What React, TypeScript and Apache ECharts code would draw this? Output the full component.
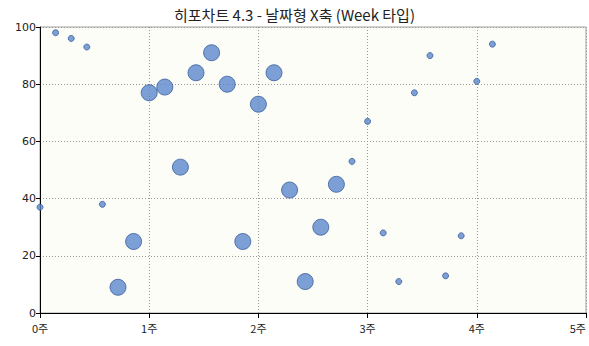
import React, { useEffect, useRef } from "react";
import * as echarts from "echarts";

const titleText = "히포차트 4.3 - 날짜형 X축 (Week 타입)";
// day index from start (7 days = 1 week)
const days = [0, 1, 2, 3, 4, 5, 6, 7, 8, 9, 10, 11, 12, 13, 14, 15, 16, 17, 18, 19, 20, 21, 22, 23, 24, 25, 26, 27, 28, 29];
const values = [37, 98, 96, 93, 38, 9, 25, 77, 79, 51, 84, 91, 80, 25, 73, 84, 43, 11, 30, 45, 53, 67, 28, 11, 77, 90, 13, 27, 81, 94];
const sizes = [1, 1, 1, 1, 1, 3, 3, 3, 3, 3, 3, 3, 3, 3, 3, 3, 3, 3, 3, 3, 1, 1, 1, 1, 1, 1, 1, 1, 1, 1];
const weekTicks = [0, 1, 2, 3, 4, 5];
const yTicks = [0, 20, 40, 60, 80, 100];

export default function App() {
  const ref = useRef<HTMLDivElement>(null);
  useEffect(() => {
    if (!ref.current) return;
    const chart = echarts.init(ref.current, null, { renderer: "svg" });
    const data = days.map((d, i) => [d, values[i], sizes[i]]);
    chart.setOption({
      animation: false,
      title: {
        text: titleText,
        left: "center",
        top: 2,
        textStyle: { fontFamily: "Noto Sans CJK KR", fontSize: 15, fontWeight: "normal", color: "#222" },
      },
      grid: {
        left: 40,
        right: 1,
        top: 27,
        bottom: 33,
        show: true,
        backgroundColor: "#fdfdf7",
        borderColor: "#a0a0a0",
        borderWidth: 1,
      },
      xAxis: {
        type: "value",
        min: 0,
        max: weekTicks[weekTicks.length - 1] * 7,
        interval: 7,
        axisLine: { show: true, onZero: false, lineStyle: { color: "#000", width: 1 } },
        axisTick: { show: true, length: 5, lineStyle: { color: "#000" } },
        axisLabel: {
          formatter: (v: number) => `${v / 7}주`,
          color: "#222",
          fontSize: 11,
          fontFamily: "Noto Sans CJK KR",
          margin: 9,
          alignMaxLabel: "right",
        },
        splitLine: { show: true, lineStyle: { color: "#999", type: [1, 2], width: 1 } },
      },
      yAxis: {
        type: "value",
        min: yTicks[0],
        max: yTicks[yTicks.length - 1],
        interval: 20,
        axisLine: { show: true, onZero: false, lineStyle: { color: "#000", width: 1 } },
        axisTick: { show: true, length: 4, lineStyle: { color: "#000" } },
        axisLabel: { color: "#222", fontSize: 11, fontFamily: "Tahoma, DejaVu Sans, sans-serif", margin: 4 },
        splitLine: { show: true, lineStyle: { color: "#999", type: [1, 2], width: 1 } },
      },
      series: [
        {
          type: "scatter",
          data,
          symbolSize: (v: number[]) => (v[2] >= 3 ? 16 : 6),
          clip: true,
          itemStyle: { color: "#5b87cc", borderColor: "#3a5e9e", borderWidth: 1 },
        },
      ],
    });
    return () => chart.dispose();
  }, []);
  return <div ref={ref} style={{ width: 589, height: 346, position: "absolute", left: 0, top: 0 }} />;
}
